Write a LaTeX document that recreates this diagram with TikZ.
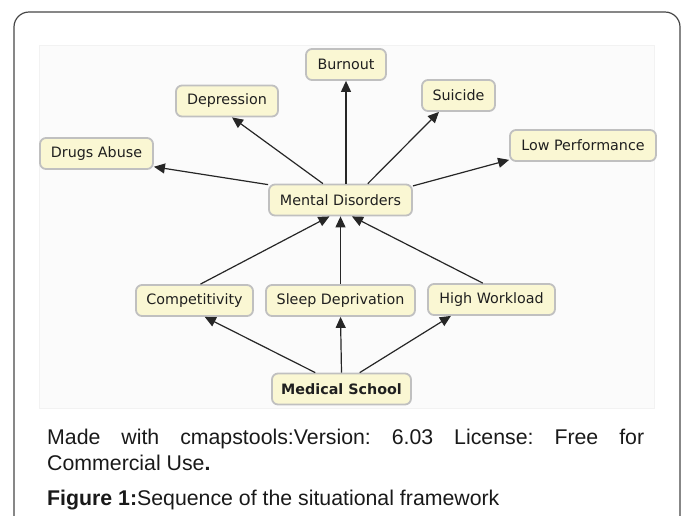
\documentclass[tikz,border=0pt]{standalone}
\usepackage{fontspec}
\setmainfont{Liberation Sans}
\newfontfamily\nodefont{DejaVu Sans}
\usetikzlibrary{arrows.meta,calc}
\definecolor{nodefill}{RGB}{250,247,211}
\definecolor{nodeline}{RGB}{192,192,192}
\definecolor{framecol}{RGB}{70,70,70}
\frenchspacing
\begin{document}
\begin{tikzpicture}[x=1pt,y=-1pt,
  box/.style={draw=nodeline, line width=1.8pt, fill=nodefill, rounded corners=6pt,
    font=\nodefont\fontsize{14.3}{16}\selectfont, text=black!88, minimum height=31pt, inner sep=0pt},
  link/.style={draw=black!85, line width=1.2pt, -{Triangle[length=11pt,width=10pt]}},
  captxt/.style={anchor=base west, inner sep=0pt, font=\fontsize{21.3}{25}\selectfont, text=black!90}]
\useasboundingbox (0,0) rectangle (684,515);
\draw[line width=1.2pt, draw=framecol, rounded corners=15pt] (14,560) -- (14,12) -- (680,12) -- (680,560);
\filldraw[fill=gray!3, draw=gray!10] (39,45) rectangle (654,408);
% nodes
\node[box, minimum width=80pt]  (burn) at (346,64.5) {Burnout};
\node[box, minimum width=102pt] (dep)  at (227,101) {Depression};
\node[box, minimum width=73pt]  (sui)  at (458.5,95.5) {Suicide};
\node[box, minimum width=113pt] (drug) at (96.5,153.5) {Drugs Abuse};
\node[box, minimum width=146pt] (low)  at (583,145.5) {Low Performance};
\node[box, minimum width=143pt] (md)   at (340.5,200) {Mental Disorders};
\node[box, minimum width=117pt] (comp) at (194.5,300.5) {Competitivity};
\node[box, minimum width=149pt] (sd)   at (340.5,300.5) {Sleep Deprivation};
\node[box, minimum width=127pt] (hw)   at (491.5,299.5) {High Workload};
\node[box, minimum width=139pt, font=\nodefont\bfseries\fontsize{14.3}{16}\selectfont] (ms) at (341.5,389) {Medical School};
% connectors
\draw[link] (md.168.5) -- (drug.347);
\draw[link] (md.137.4) -- (dep.287);
\draw[link] (md.north -| burn) -- (burn.south);
\draw[link] (md.31.1) -- (sui.220);
\draw[link] (md.11.7) -- (low.191.4);
\draw[link] (comp.70.5) -- (md.236.7);
\draw[link] (sd.north) -- (md.south);
\draw[link] (hw.118.7) -- (md.305.7);
\draw[link] (ms.148.9) -- (comp.302.5);
\draw[link] (ms.north) -- (sd.south);
\draw[link] (ms.42.4) -- (hw.202.6);
% caption
\node[captxt] (l1) at (47,444) {\makebox[597pt][s]{Made with cmapstools:Version: 6.03 License: Free for}};
\node[captxt] (l2) at (47,470) {Commercial Use\textbf{.}};
\node[captxt] (l3) at (47,505) {\textbf{Figure 1:}Sequence of the situational framework};
\end{tikzpicture}
\end{document}
